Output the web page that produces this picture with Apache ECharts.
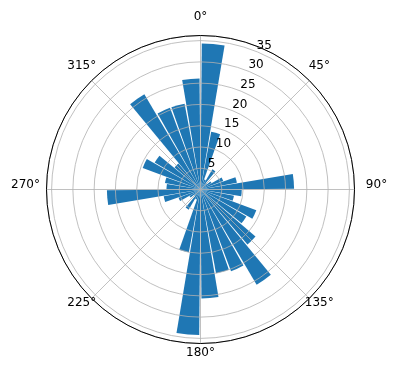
<!DOCTYPE html>
<html><head><meta charset="utf-8">
<script src="https://cdn.jsdelivr.net/npm/echarts@6/dist/echarts.min.js"></script>
<style>html,body{margin:0;padding:0;background:#fff}#c{width:396px;height:380px}</style>
</head><body><div id="c"></div>
<script>
// direction bins (start of each 10° bin)
const binStarts = [0,10,20,30,40,50,60,70,80,90,100,110,120,130,140,150,160,170,
                   180,190,200,210,220,230,240,250,260,270,280,290,300,310,320,330,340,350];
// bar heights
const counts = [34.3,13.8,2.5,5.5,2.0,3.0,5.7,8.7,22.0,9.7,8.0,14.0,12.5,17.0,26.0,20.5,20.0,25.6,
                34.2,15.0,2.5,5.5,2.0,3.0,5.5,8.8,22.0,8.0,8.5,14.5,12.5,8.0,26.0,20.5,20.5,26.1];
const angleTicks = [0,45,90,135,180,225,270,315];
const angleTickLabels = ['0°','45°','90°','135°','180°','225°','270°','315°'];
const radialTicks = [5,10,15,20,25,30,35];
const radialMax = 36.2;

const chart = echarts.init(document.getElementById('c'), null, {renderer:'canvas'});
const center = [200.5, 189.5];
const R = 154;
const font = 'DejaVu Sans';
const LABEL_POLAR_R = 600;   // large helper radius so labels are centred on their anchor
const LABEL_DIST = 168;
const hidden = {axisLine: {show: false}, axisTick: {show: false}, axisLabel: {show: false}, splitLine: {show: false}};
const option = {
  animation: false,
  backgroundColor: '#fff',
  polar: [{center: center, radius: R}, {center: center, radius: R}, {center: center, radius: R},
          {center: center, radius: LABEL_POLAR_R}],
  angleAxis: [
    {polarIndex: 0, type: 'value', min: 0, max: 360, interval: 45, startAngle: 90, clockwise: true, z: 10,
     axisLine: {show: true, lineStyle: {color: '#000', width: 1}},
     axisTick: {show: false}, axisLabel: {show: false},
     splitLine: {show: true, lineStyle: {color: '#b0b0b0', width: 0.8}}},
    Object.assign({polarIndex: 1, type: 'category', data: binStarts, startAngle: 90, clockwise: true, boundaryGap: true}, hidden),
    Object.assign({polarIndex: 2, type: 'value', min: 0, max: 360, startAngle: 67.5, clockwise: true}, hidden),
    {polarIndex: 3, type: 'value', min: 0, max: 360, interval: 45, startAngle: 90, clockwise: true, z: 10,
     axisLine: {show: false}, axisTick: {show: false}, splitLine: {show: false},
     axisLabel: {show: true, margin: LABEL_DIST - LABEL_POLAR_R, color: '#000', fontSize: 12, fontFamily: font,
       padding: [0, 0, 10, 0],
       rich: {e: {padding: [0, 0, 0, 16], fontSize: 12, fontFamily: font, color: '#000'},
              w: {padding: [0, 14, 0, 0], fontSize: 12, fontFamily: font, color: '#000'},
              n: {fontSize: 12, fontFamily: font, color: '#000'}},
       formatter: function (v) {
         const i = angleTicks.indexOf(v);
         if (i < 0) return '';
         const key = v === 90 ? 'e' : (v === 270 ? 'w' : 'n');
         return '{' + key + '|' + angleTickLabels[i] + '}';
       }}}
  ],
  radiusAxis: [
    {polarIndex: 0, type: 'value', min: 0, max: radialMax, interval: 5, z: 10,
     axisLine: {show: false}, axisTick: {show: false}, axisLabel: {show: false},
     splitLine: {show: true, lineStyle: {color: '#b0b0b0', width: 0.8}}},
    Object.assign({polarIndex: 1, type: 'value', min: 0, max: radialMax}, hidden),
    {polarIndex: 2, type: 'value', min: 0, max: radialMax, interval: 5, z: 11,
     axisLine: {show: false}, axisTick: {show: false}, splitLine: {show: false},
     axisLabel: {show: true, margin: 1, color: '#000', fontSize: 12, fontFamily: font, rotate: 0,
       align: 'left', verticalAlign: 'bottom',
       formatter: function (v) { return radialTicks.indexOf(v) >= 0 ? String(v) : ''; }}},
    Object.assign({polarIndex: 3, type: 'value', min: 0, max: 1}, hidden)
  ],
  series: [{
    type: 'bar', coordinateSystem: 'polar', polarIndex: 1, data: counts,
    barCategoryGap: '10%', itemStyle: {color: '#1f77b4'}, z: 2
  }]
};
chart.setOption(option);
</script>
</body></html>
